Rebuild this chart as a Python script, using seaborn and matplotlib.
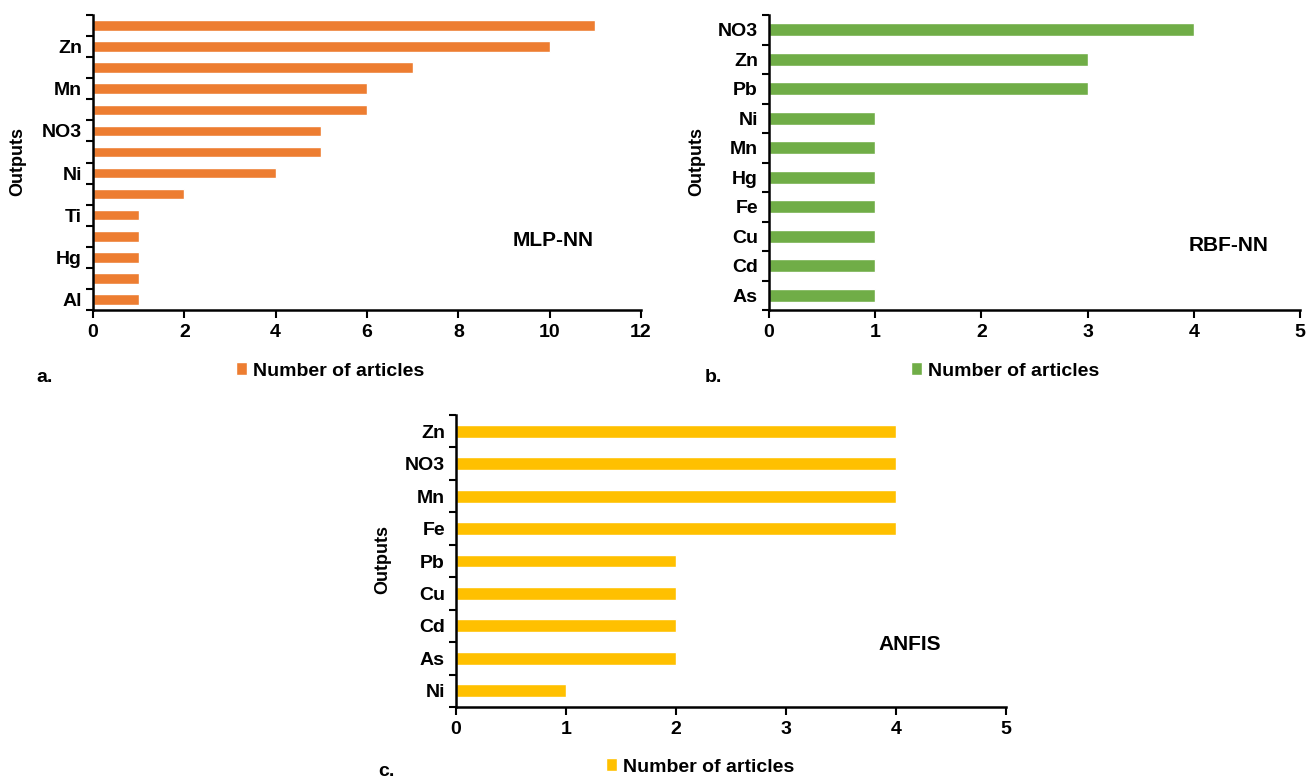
import matplotlib
matplotlib.use("Agg")
import matplotlib.pyplot as plt
import seaborn as sns
import numpy as np
import pandas as pd
from matplotlib.ticker import FixedLocator, MultipleLocator

# ---- data ----
mlp_outputs = ["Pb", "Zn", "Fe", "Mn", "Cu", "NO3", "Cd", "Ni", "As", "Ti", "Cr", "Hg", "Co", "Al"]
mlp_counts = [11, 10, 7, 6, 6, 5, 5, 4, 2, 1, 1, 1, 1, 1]
mlp_shown = ["Zn", "Mn", "NO3", "Ni", "Ti", "Hg", "Al"]

rbf_outputs = ["NO3", "Zn", "Pb", "Ni", "Mn", "Hg", "Fe", "Cu", "Cd", "As"]
rbf_counts = [4, 3, 3, 1, 1, 1, 1, 1, 1, 1]

anfis_outputs = ["Zn", "NO3", "Mn", "Fe", "Pb", "Cu", "Cd", "As", "Ni"]
anfis_counts = [4, 4, 4, 4, 2, 2, 2, 2, 1]

legend_label = "Number of articles"

sns.set_theme(style="white")
plt.rcParams["font.family"] = ["Liberation Sans", "DejaVu Sans"]
plt.rcParams["font.weight"] = "bold"
for k in ["text.color", "axes.labelcolor", "xtick.color", "ytick.color"]:
    plt.rcParams[k] = "black"

W, H = 1309, 781
fig = plt.figure(figsize=(W / 100, H / 100), dpi=100)


def box(l, t, r, b):
    return [l / W, 1 - b / H, (r - l) / W, (b - t) / H]


def panel(rect, cats, vals, color, xmax, xstep, width, shown, name, name_xy,
          ylab_xy, leg_xy, letter, letter_xy):
    ax = fig.add_axes(box(*rect))
    df = pd.DataFrame({"Outputs": cats, "Count": vals})
    sns.barplot(data=df, x="Count", y="Outputs", orient="h", color=color,
                width=width, ax=ax, label=legend_label, saturation=1)
    n = len(cats)
    ax.set_xlim(0, xmax)
    ax.set_ylim(n - 0.5, -0.5)
    ax.xaxis.set_major_locator(MultipleLocator(xstep))
    ax.set_xticklabels([f"{int(t)}" for t in ax.get_xticks()], fontweight="bold")
    ax.tick_params(axis="x", which="major", bottom=True, length=6, width=1.5,
                   color="black", direction="out", labelsize=14, pad=4)
    ax.set_yticks(range(n))
    ax.set_yticklabels([c if c in shown else "" for c in cats], fontweight="bold", fontsize=14)
    ax.tick_params(axis="y", which="major", left=True, length=0, pad=8)
    ax.yaxis.set_minor_locator(FixedLocator(np.arange(-0.5, n, 1.0)))
    ax.tick_params(axis="y", which="minor", left=True, length=5, width=1.5,
                   color="black", direction="out")
    ax.xaxis.set_minor_locator(FixedLocator([]))
    for s in ["top", "right"]:
        ax.spines[s].set_visible(False)
    for s in ["left", "bottom"]:
        ax.spines[s].set_color("black")
        ax.spines[s].set_linewidth(1.8)
    ax.set_xlabel("")
    ax.set_ylabel("")
    ax.grid(False)
    ax.legend(loc="center", bbox_to_anchor=(leg_xy[0] / W, 1 - leg_xy[1] / H),
              bbox_transform=fig.transFigure, frameon=False,
              prop={"size": 14, "weight": "bold"}, handlelength=0.6,
              handleheight=0.6, handletextpad=0.3, labelcolor="black")
    fig.text(name_xy[0] / W, 1 - name_xy[1] / H, name, ha="center", va="center",
             fontsize=15, fontweight="bold")
    fig.text(ylab_xy[0] / W, 1 - ylab_xy[1] / H, "Outputs", ha="center", va="center",
             rotation=90, fontsize=13, fontweight="bold")
    fig.text(letter_xy[0] / W, 1 - letter_xy[1] / H, letter, ha="left", va="center",
             fontsize=14, fontweight="bold")
    return ax


panel((93, 15, 641, 310), mlp_outputs, mlp_counts, "#ED7D31", 12, 2, 0.5,
      mlp_shown, "MLP-NN", (553, 241), (18, 162), (330, 371), "a.", (36, 378))
panel((769, 15, 1300, 310), rbf_outputs, rbf_counts, "#70AD47", 5, 1, 0.44,
      rbf_outputs, "RBF-NN", (1229, 246), (697, 162), (1005, 371), "b.", (705, 378))
panel((456, 415, 1006, 707), anfis_outputs, anfis_counts, "#FFC000", 5, 1, 0.4,
      anfis_outputs, "ANFIS", (910, 645), (383, 560), (700, 767), "c.", (378, 772))

fig.savefig("out.png", dpi=100, facecolor="white")
